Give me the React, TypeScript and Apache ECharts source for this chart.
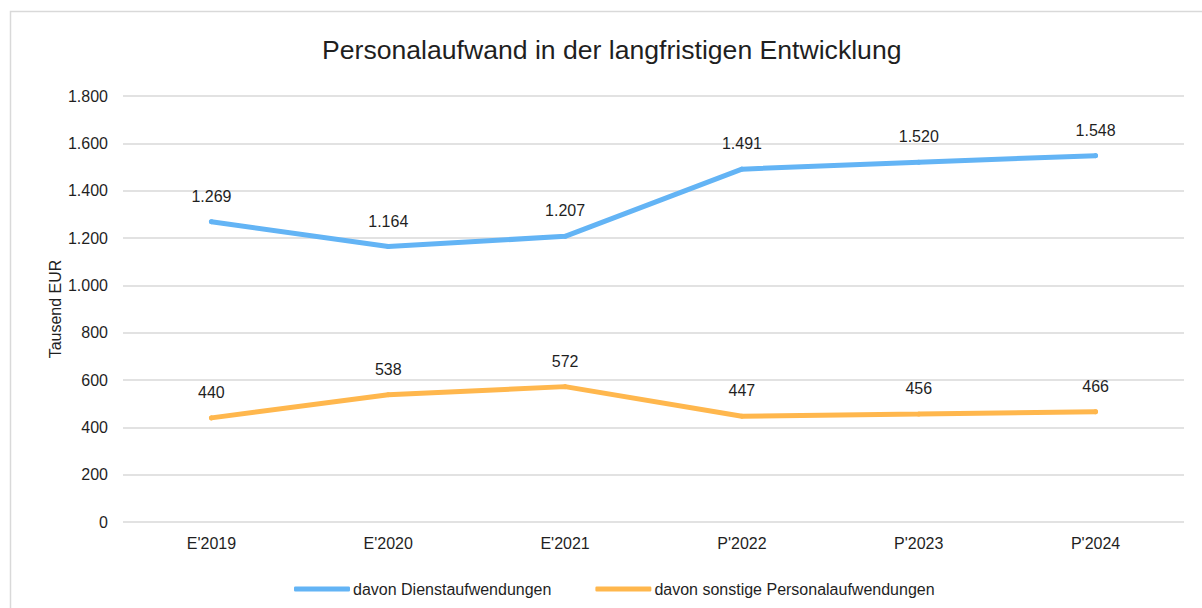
import React, { useEffect, useRef } from "react";
import * as echarts from "echarts";

const categories = ["E'2019", "E'2020", "E'2021", "P'2022", "P'2023", "P'2024"];
const dienstaufwendungen = [1269, 1164, 1207, 1491, 1520, 1548];
const sonstige = [440, 538, 572, 447, 456, 466];
const seriesNames = ["davon Dienstaufwendungen", "davon sonstige Personalaufwendungen"];
const titleText = "Personalaufwand in der langfristigen Entwicklung";
const yAxisName = "Tausend EUR";

const fmt = (v: number) => {
  const s = String(Math.round(v));
  return s.replace(/\B(?=(\d{3})+(?!\d))/g, ".");
};

const FONT = "Liberation Sans, Arial, sans-serif";
const TXT = "#1f1f1f";

export default function App() {
  const ref = useRef<HTMLDivElement>(null);
  useEffect(() => {
    if (!ref.current) return;
    const chart = echarts.init(ref.current, undefined, { renderer: "svg" });
    const labelCfg = {
      show: true,
      position: "top" as const,
      distance: 15,
      color: TXT,
      fontSize: 16,
      fontFamily: FONT,
      formatter: (p: any) => fmt(p.value),
    };
    chart.setOption({
      animation: false,
      backgroundColor: "#ffffff",
      textStyle: { fontFamily: FONT },
      title: {
        text: titleText,
        left: 317,
        top: 31,
        textStyle: { fontSize: 26.6, fontWeight: "normal", color: TXT, fontFamily: FONT },
      },
      graphic: [
        {
          type: "rect",
          shape: { x: 10.5, y: 11.5, width: 1300, height: 700 },
          style: { fill: "none", stroke: "#d9d9d9", lineWidth: 1.5 },
          silent: true,
          z: -1,
        },
      ],
      legend: {
        left: 289,
        top: 576,
        itemGap: 44,
        itemWidth: 56,
        itemHeight: 5,
        icon: "roundRect",
        textStyle: { fontSize: 16, color: TXT, fontFamily: FONT, padding: [0, 0, 0, -2] },
        data: seriesNames,
      },
      grid: { left: 123, right: 18, top: 96, bottom: 86, containLabel: false },
      xAxis: {
        type: "category",
        data: categories,
        boundaryGap: true,
        axisLine: { show: false },
        axisTick: { show: false },
        axisLabel: { color: TXT, fontSize: 16, margin: 13, fontFamily: FONT },
      },
      yAxis: {
        type: "value",
        min: 0,
        max: 1800,
        interval: 200,
        name: yAxisName,
        nameLocation: "middle",
        nameGap: 60,
        nameMoveOverlap: false,
        nameTextStyle: { fontSize: 16, color: TXT, fontFamily: FONT },
        axisLine: { show: false },
        axisTick: { show: false },
        axisLabel: { color: TXT, fontSize: 16, margin: 15, formatter: (v: number) => fmt(v), fontFamily: FONT },
        splitLine: { lineStyle: { color: "#d9d9d9", width: 1.5 } },
      },
      series: [
        {
          name: seriesNames[0],
          type: "line",
          data: dienstaufwendungen,
          symbol: "circle",
          symbolSize: 5,
          lineStyle: { width: 5, color: "#63B4F5", cap: "round" },
          itemStyle: { color: "#63B4F5" },
          label: labelCfg,
        },
        {
          name: seriesNames[1],
          type: "line",
          data: sonstige,
          symbol: "circle",
          symbolSize: 5,
          lineStyle: { width: 5, color: "#FFB74D", cap: "round" },
          itemStyle: { color: "#FFB74D" },
          label: labelCfg,
        },
      ],
    });
    return () => chart.dispose();
  }, []);
  return (
    <div
      ref={ref}
      style={{ position: "absolute", left: 0, top: 0, width: 1202, height: 608 }}
    />
  );
}
